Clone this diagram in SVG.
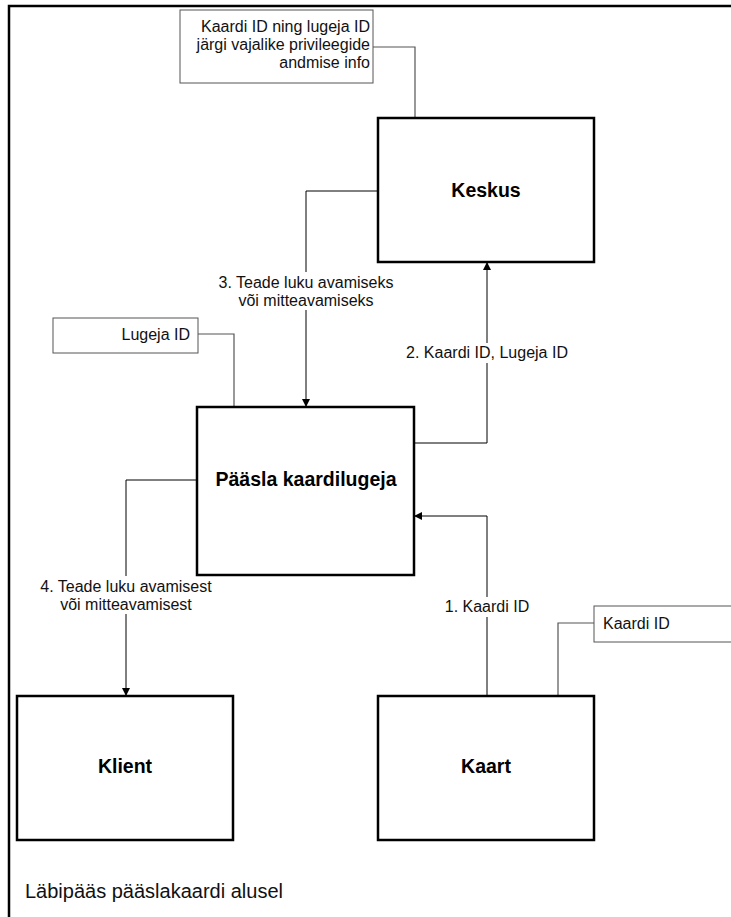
<svg xmlns="http://www.w3.org/2000/svg" width="731" height="917" viewBox="0 0 731 917">
  <style>
    .node { fill: #fff; stroke: #000; stroke-width: 2.5; }
    .note { fill: #fff; stroke: #555; stroke-width: 1; }
    .title { font-family: "Liberation Sans", Arial, sans-serif; font-weight: bold; font-size: 19.5px; fill: #000; text-anchor: middle; }
    .txt { font-family: "Liberation Sans", Arial, sans-serif; font-size: 16px; fill: #111; }
    .flow { fill: none; stroke: #000; stroke-width: 1; }
    .link { fill: none; stroke: #555; stroke-width: 1.2; }
    .gap { fill: #fff; stroke: none; }
  </style>
  <defs>
    <marker id="arrow" viewBox="0 0 10 10" refX="10" refY="5" markerWidth="8" markerHeight="8" markerUnits="userSpaceOnUse" orient="auto">
      <path d="M0,0 L10,5 L0,10 z" fill="#000"/>
    </marker>
  </defs>

  <rect width="731" height="917" fill="#fff"/>
  <!-- page frame -->
  <path d="M9,917 V6 H735" fill="none" stroke="#000" stroke-width="2.5"/>

  <g id="connectors">
    <!-- note links -->
    <path class="link" d="M373,47 H415 V118"/>
    <path class="link" d="M198,334 H234 V407"/>
    <path class="link" d="M594,623 H558 V696"/>
    <!-- 3: Keskus -> Pääsla -->
    <path class="flow" d="M378,191 H306 V407" marker-end="url(#arrow)"/>
    <!-- 2: Pääsla -> Keskus -->
    <path class="flow" d="M414,443 H487 V262" marker-end="url(#arrow)"/>
    <!-- 1: Kaart -> Pääsla -->
    <path class="flow" d="M487,696 V516 H414" marker-end="url(#arrow)"/>
    <!-- 4: Pääsla -> Klient -->
    <path class="flow" d="M197,480 H126 V696" marker-end="url(#arrow)"/>

    <!-- labels -->
    <rect class="gap" x="230" y="272" width="152" height="38"/>
    <text class="txt" text-anchor="middle" x="306" y="288">3. Teade luku avamiseks</text>
    <text class="txt" text-anchor="middle" x="306" y="306">või mitteavamiseks</text>

    <rect class="gap" x="403" y="343" width="168" height="20"/>
    <text class="txt" text-anchor="middle" x="487" y="358">2. Kaardi ID, Lugeja ID</text>

    <rect class="gap" x="440" y="597" width="94" height="20"/>
    <text class="txt" text-anchor="middle" x="487" y="612">1. Kaardi ID</text>

    <rect class="gap" x="40" y="576" width="172" height="38"/>
    <text class="txt" text-anchor="middle" x="126" y="592">4. Teade luku avamisest</text>
    <text class="txt" text-anchor="middle" x="126" y="610">või mitteavamisest</text>
  </g>

  <g id="note-keskus">
    <rect class="note" x="180" y="10" width="193" height="73"/>
    <text class="txt" text-anchor="end" x="370" y="32">Kaardi ID ning lugeja ID</text>
    <text class="txt" text-anchor="end" x="370" y="50">järgi vajalike privileegide</text>
    <text class="txt" text-anchor="end" x="370" y="68">andmise info</text>
  </g>

  <g id="note-lugeja">
    <rect class="note" x="53" y="318" width="145" height="35"/>
    <text class="txt" text-anchor="end" x="190" y="340">Lugeja ID</text>
  </g>

  <g id="note-kaart">
    <rect class="note" x="594" y="606" width="145" height="36"/>
    <text class="txt" x="603" y="629">Kaardi ID</text>
  </g>

  <g id="keskus">
    <rect class="node" x="378" y="118" width="216" height="144"/>
    <text class="title" x="486" y="197">Keskus</text>
  </g>

  <g id="paasla-kaardilugeja">
    <rect class="node" x="197" y="407" width="217" height="168"/>
    <text class="title" x="306" y="486">Pääsla kaardilugeja</text>
  </g>

  <g id="klient">
    <rect class="node" x="17" y="696" width="216" height="144"/>
    <text class="title" x="125" y="773">Klient</text>
  </g>

  <g id="kaart">
    <rect class="node" x="378" y="696" width="216" height="144"/>
    <text class="title" x="486" y="773">Kaart</text>
  </g>

  <text class="txt" x="25" y="898" style="font-size:20px">Läbipääs pääslakaardi alusel</text>
</svg>
